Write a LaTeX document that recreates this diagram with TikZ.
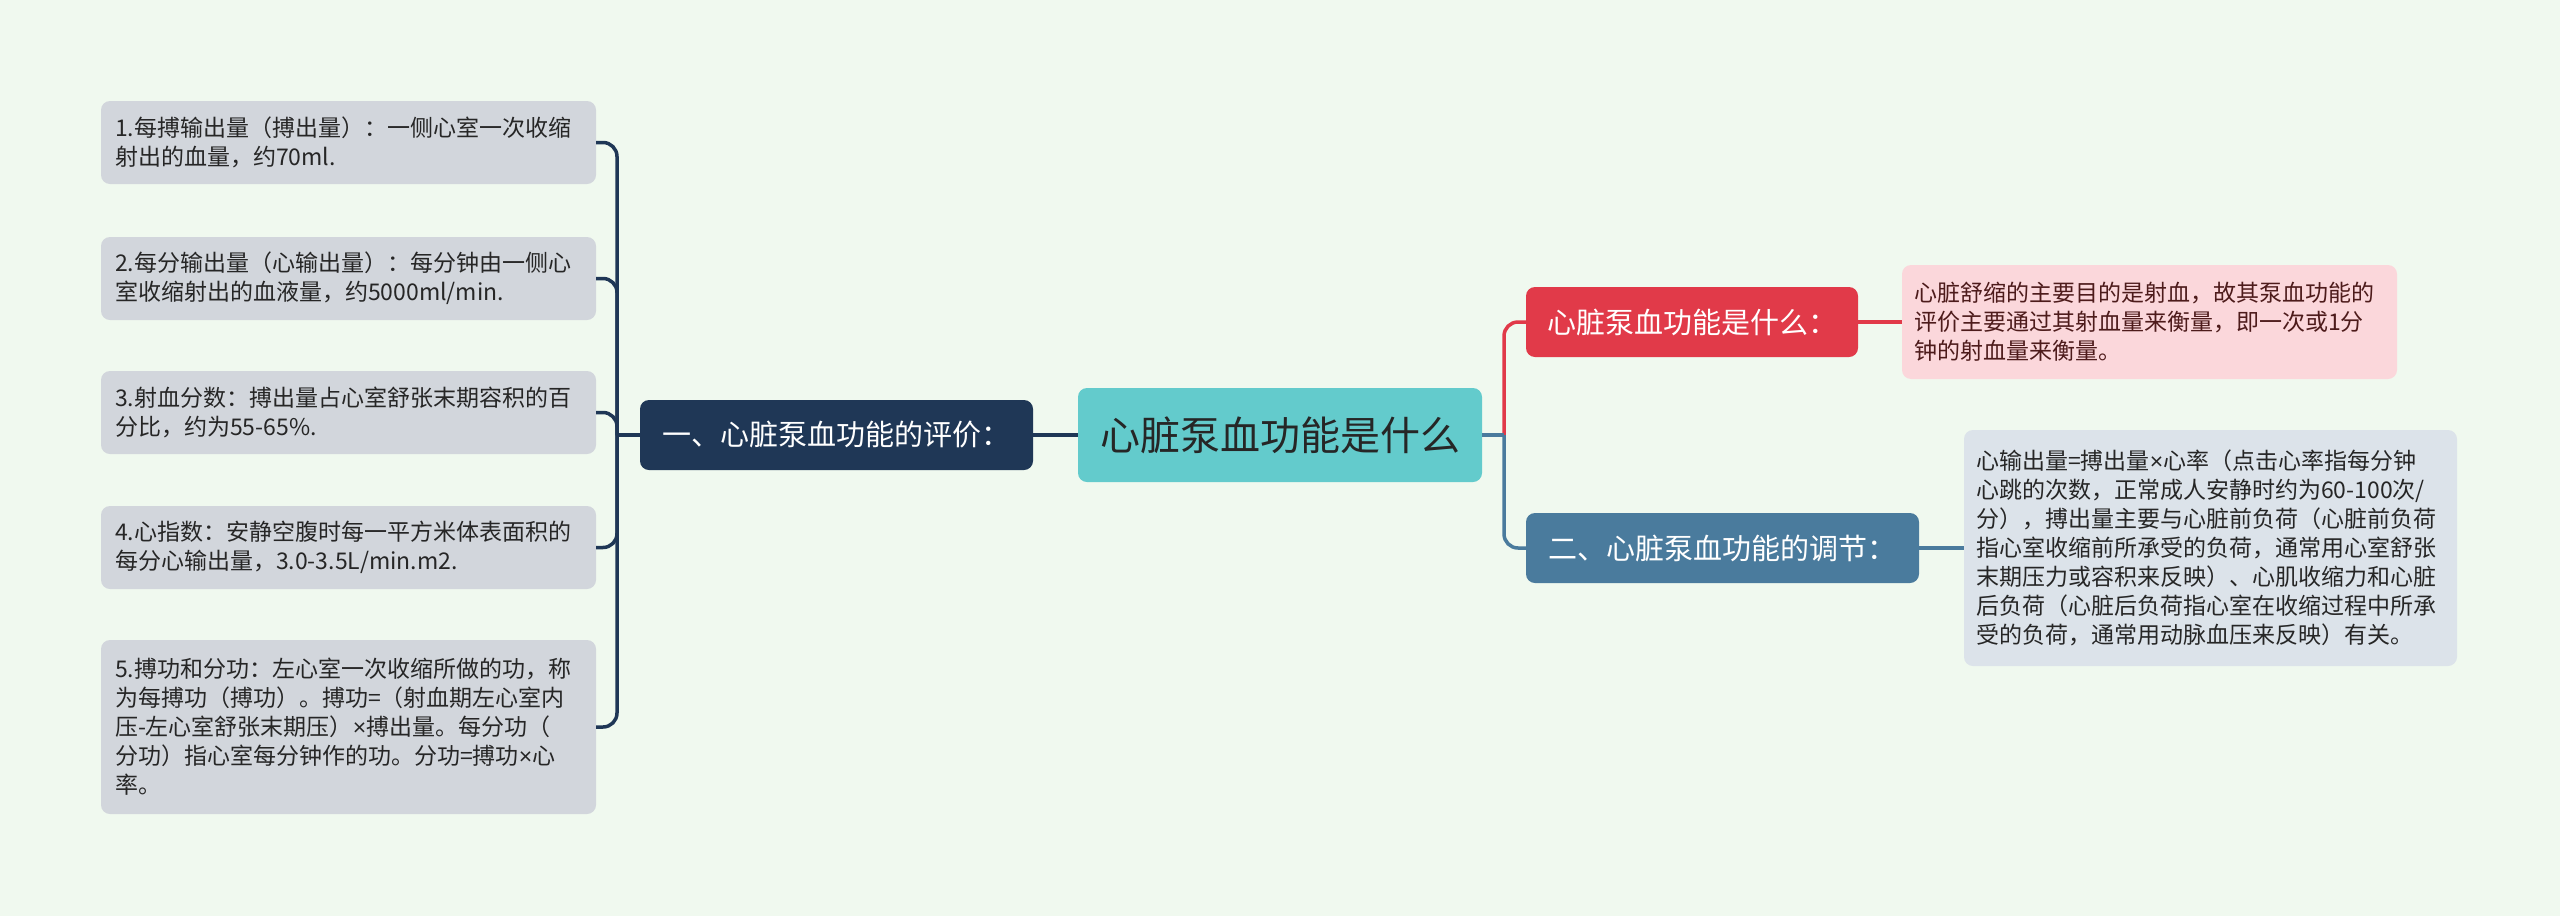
\documentclass[tikz,border=0pt]{standalone}
\usepackage{fontspec}
\setmainfont{Noto Sans CJK SC}
\newfontfamily\latinfont{Liberation Sans}
\newcommand\mytimes{{\latinfont ×}}
\definecolor{bgc}{HTML}{F0F9EF}
\definecolor{leftfill}{HTML}{D2D6DC}
\definecolor{navy}{HTML}{1F3756}
\definecolor{teal}{HTML}{63CBCC}
\definecolor{redc}{HTML}{E13A49}
\definecolor{pinkc}{HTML}{FBD7DB}
\definecolor{bluec}{HTML}{4A7B9D}
\definecolor{greyc}{HTML}{DCE3EA}
\definecolor{maroon}{HTML}{4D1B1B}
\definecolor{darktext}{HTML}{262626}
\tikzset{
  leafbox/.style={rounded corners=9pt, inner sep=0pt, align=left, text=darktext,
    font=\fontsize{23}{29}\selectfont},
  topicbox/.style={rounded corners=9pt, inner sep=0pt, align=center, text=white,
    font=\fontsize{29}{34}\selectfont},
  navyline/.style={draw=navy, line width=3.5pt},
  redline/.style={draw=redc, line width=3.5pt},
  blueline/.style={draw=bluec, line width=3.5pt},
}
\begin{document}
\begin{tikzpicture}[x=1pt,y=-1pt]
\useasboundingbox (0,0) rectangle (2560,916);
\fill[bgc] (0,0) rectangle (2560,916);

% root
\node[rounded corners=9pt, fill=teal, minimum width=404pt, minimum height=94pt, inner sep=0pt,
  text=darktext, font=\fontsize{40}{46}\selectfont] (root) at (1280,435) {心脏泵血功能是什么};

% left topic
\node[topicbox, fill=navy, minimum width=393pt, minimum height=70pt] (one) at (836.5,435) {一、心脏泵血功能的评价：};

% left leaves
\node[leafbox, fill=leftfill, minimum width=495pt, minimum height=83pt, text width=467pt] (b1) at (348.5,142.5)
  {1.每搏输出量（搏出量）：一侧心室一次收缩\\射出的血量，约70ml.};
\node[leafbox, fill=leftfill, minimum width=495pt, minimum height=83pt, text width=467pt] (b2) at (348.5,278.5)
  {2.每分输出量（心输出量）：每分钟由一侧心\\室收缩射出的血液量，约5000ml/min.};
\node[leafbox, fill=leftfill, minimum width=495pt, minimum height=83pt, text width=467pt] (b3) at (348.5,412.5)
  {3.射血分数：搏出量占心室舒张末期容积的百\\分比，约为55-65\%.};
\node[leafbox, fill=leftfill, minimum width=495pt, minimum height=83pt, text width=467pt] (b4) at (348.5,547.5)
  {4.心指数：安静空腹时每一平方米体表面积的\\每分心输出量，3.0-3.5L/min.m2.};
\node[leafbox, fill=leftfill, minimum width=495pt, minimum height=174pt, text width=467pt] (b5) at (348.5,727)
  {5.搏功和分功：左心室一次收缩所做的功，称\\为每搏功（搏功）。搏功=（射血期左心室内\\压-左心室舒张末期压）\mytimes 搏出量。每分功（\\分功）指心室每分钟作的功。分功=搏功\mytimes 心\\率。};

% right topics
\node[topicbox, fill=redc, minimum width=332pt, minimum height=70pt] (red) at (1692,322) {心脏泵血功能是什么：};
\node[topicbox, fill=bluec, minimum width=393pt, minimum height=70pt] (blue) at (1722.5,548) {二、心脏泵血功能的调节：};

% right leaves
\node[leafbox, fill=pinkc, text=maroon, minimum width=495pt, minimum height=114pt, text width=471pt] (pink) at (2149.5,322)
  {心脏舒缩的主要目的是射血，故其泵血功能的\\评价主要通过其射血量来衡量，即一次或1分\\钟的射血量来衡量。};
\node[leafbox, fill=greyc, minimum width=493pt, minimum height=236pt, text width=469pt] (grey) at (2210.5,548)
  {心输出量=搏出量\mytimes 心率（点击心率指每分钟\\心跳的次数，正常成人安静时约为60-100次/\\分），搏出量主要与心脏前负荷（心脏前负荷\\指心室收缩前所承受的负荷，通常用心室舒张\\末期压力或容积来反映）、心肌收缩力和心脏\\后负荷（心脏后负荷指心室在收缩过程中所承\\受的负荷，通常用动脉血压来反映）有关。};

% connectors left
\coordinate (tr) at (617,435);
\draw[navyline, rounded corners=14pt] (b1.east) -| (tr);
\draw[navyline, rounded corners=14pt] (b2.east) -| (tr);
\draw[navyline, rounded corners=14pt] (b3.east) -| (tr);
\draw[navyline, rounded corners=14pt] (b4.east) -| (tr);
\draw[navyline, rounded corners=14pt] (b5.east) -| (tr);
\draw[navyline] (tr) -- (one.west);
\draw[navyline] (one.east) -- (root.west);

% connectors right
\coordinate (rt) at (1504,435);
\draw[redline, rounded corners=14pt] (rt) |- (red.west);
\draw[blueline, rounded corners=14pt] (rt) |- (blue.west);
\draw[blueline] (root.east) -- (rt);
\draw[redline] (red.east) -- (pink.west);
\draw[blueline] (blue.east) -- (grey.west);
\end{tikzpicture}
\end{document}
